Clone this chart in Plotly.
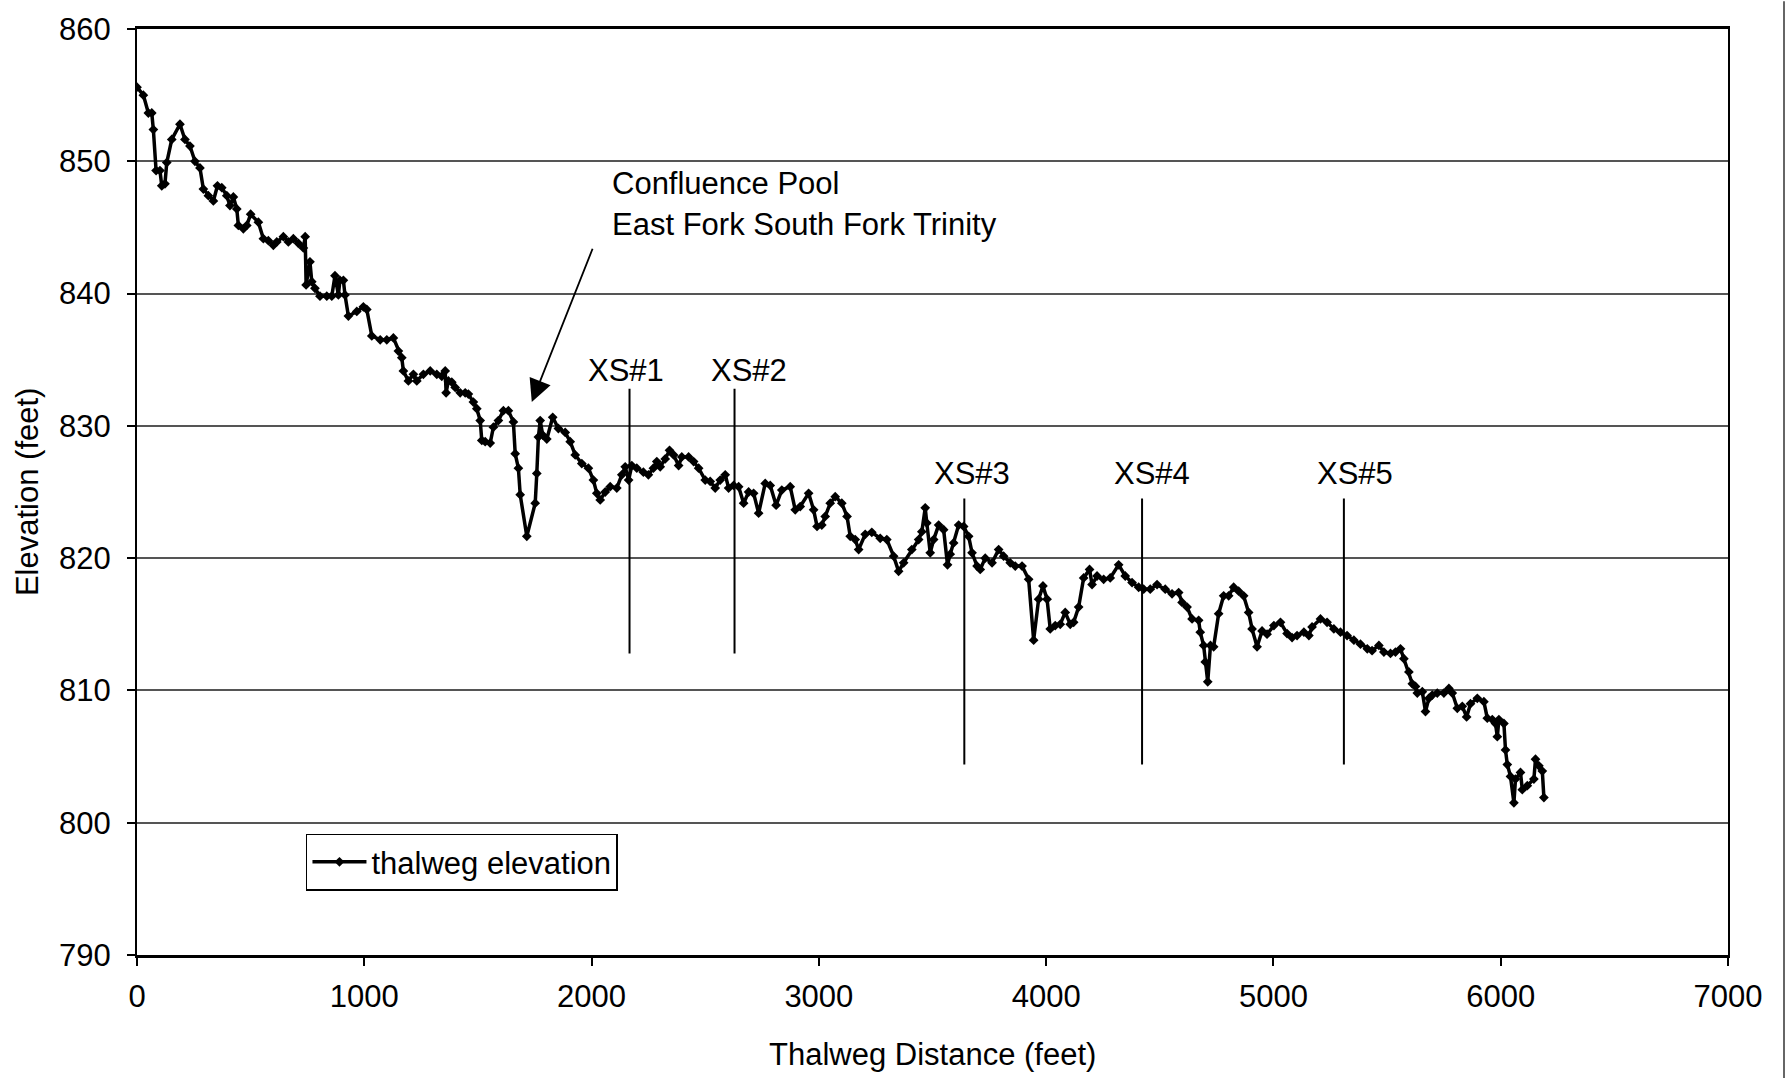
import plotly.graph_objects as go

# ---- data ----
distance_ft = [
    0, 28, 50, 65, 72, 84, 101, 109, 123, 131, 153, 189, 211, 233, 255, 277, 292, 314, 336, 354,
    373, 395, 409, 424, 439, 446, 468, 483, 500, 534, 556, 578, 600, 615, 644, 666, 688, 710, 732, 740,
    744, 761, 769, 783, 805, 835, 857, 871, 886, 893, 908, 915, 930, 967, 996, 1011, 1033, 1070, 1099, 1128,
    1150, 1165, 1172, 1194, 1216, 1231, 1260, 1290, 1319, 1341, 1356, 1360, 1370, 1385, 1400, 1422, 1444, 1458, 1480, 1495,
    1510, 1517, 1532, 1554, 1568, 1590, 1612, 1634, 1656, 1664, 1678, 1686, 1715, 1752, 1759, 1766, 1774, 1785, 1803, 1829,
    1854, 1884, 1906, 1928, 1957, 1986, 2008, 2023, 2038, 2060, 2082, 2111, 2133, 2148, 2163, 2177, 2199, 2228, 2250, 2272,
    2287, 2302, 2324, 2343, 2361, 2383, 2397, 2427, 2449, 2471, 2500, 2522, 2544, 2566, 2588, 2603, 2625, 2647, 2669, 2691,
    2713, 2735, 2764, 2786, 2812, 2837, 2874, 2896, 2918, 2955, 2977, 2992, 3013, 3028, 3050, 3072, 3101, 3124, 3138, 3160,
    3175, 3204, 3233, 3270, 3299, 3329, 3351, 3373, 3409, 3439, 3453, 3468, 3475, 3490, 3505, 3527, 3549, 3566, 3578, 3593,
    3615, 3637, 3659, 3674, 3696, 3710, 3732, 3762, 3791, 3813, 3842, 3864, 3894, 3923, 3945, 3967, 3986, 4004, 4018, 4040,
    4062, 4084, 4106, 4121, 4143, 4165, 4191, 4202, 4224, 4253, 4282, 4319, 4348, 4378, 4407, 4429, 4458, 4488, 4524, 4554,
    4583, 4598, 4620, 4642, 4671, 4678, 4693, 4700, 4711, 4723, 4737, 4759, 4781, 4803, 4825, 4847, 4869, 4891, 4906, 4928,
    4950, 4972, 5002, 5031, 5060, 5082, 5104, 5134, 5156, 5170, 5207, 5236, 5266, 5295, 5324, 5354, 5383, 5413, 5434, 5464,
    5486, 5515, 5537, 5559, 5574, 5596, 5611, 5625, 5633, 5655, 5669, 5684, 5699, 5721, 5750, 5772, 5787, 5809, 5831, 5850,
    5867, 5897, 5926, 5941, 5963, 5977, 5985, 5992, 6014, 6021, 6029, 6043, 6058, 6065, 6087, 6095, 6117, 6146, 6153, 6168,
    6183, 6190,
]
elevation_ft = [
    855.6, 855.0, 853.65, 853.65, 852.4, 849.3, 849.3, 848.15, 848.3, 849.9, 851.65, 852.8, 851.65, 851.15, 850.0, 849.5, 847.9, 847.4, 847.0, 848.15,
    848.0, 847.4, 846.65, 847.3, 846.4, 845.15, 844.9, 845.15, 846.0, 845.4, 844.15, 844.0, 843.65, 843.9, 844.3, 843.9, 844.15, 843.8, 843.45, 844.3,
    840.65, 842.4, 840.9, 840.4, 839.8, 839.8, 839.8, 841.35, 839.9, 841.0, 841.0, 839.9, 838.3, 838.65, 839.0, 838.8, 836.8, 836.5, 836.5, 836.65,
    835.65, 835.15, 834.15, 833.4, 833.9, 833.4, 833.9, 834.15, 833.9, 833.75, 834.15, 832.5, 833.4, 833.3, 832.9, 832.5, 832.5, 832.4, 831.8, 831.3,
    830.4, 828.9, 828.8, 828.7, 829.9, 830.4, 831.15, 831.15, 830.3, 827.9, 826.8, 824.8, 821.65, 824.15, 826.4, 829.15, 830.4, 829.3, 829.0, 830.65,
    829.8, 829.5, 828.8, 827.8, 827.15, 826.8, 825.9, 824.9, 824.4, 825.0, 825.4, 825.3, 826.3, 826.9, 825.9, 827.0, 826.8, 826.5, 826.3, 826.8,
    827.3, 826.9, 827.5, 828.15, 827.8, 827.0, 827.65, 827.65, 827.3, 826.8, 825.9, 825.8, 825.3, 825.9, 826.3, 825.3, 825.5, 825.4, 824.15, 825.0,
    824.9, 823.4, 825.65, 825.5, 824.0, 825.15, 825.4, 823.65, 823.9, 824.9, 823.65, 822.4, 822.5, 823.15, 824.15, 824.65, 824.15, 823.15, 821.65, 821.4,
    820.65, 821.8, 821.95, 821.5, 821.4, 820.15, 819.0, 819.65, 820.65, 821.4, 822.0, 823.8, 822.65, 820.4, 821.4, 822.5, 822.15, 819.5, 820.3, 821.15,
    822.5, 822.4, 821.65, 820.4, 819.4, 819.15, 820.0, 819.65, 820.65, 820.15, 819.65, 819.4, 819.4, 818.4, 813.8, 816.9, 817.9, 816.9, 814.65, 814.9,
    815.0, 815.9, 815.0, 815.15, 816.3, 818.5, 819.15, 818.0, 818.65, 818.4, 818.5, 819.5, 818.65, 818.15, 817.8, 817.65, 817.65, 818.0, 817.65, 817.3,
    817.4, 816.65, 816.3, 815.4, 815.3, 814.4, 813.4, 812.15, 810.65, 813.4, 813.3, 815.8, 817.15, 817.15, 817.8, 817.5, 817.15, 815.9, 814.65, 813.3,
    814.5, 814.25, 814.9, 815.15, 814.3, 814.0, 814.15, 814.4, 814.15, 814.8, 815.4, 815.15, 814.65, 814.4, 814.15, 813.8, 813.5, 813.15, 813.0, 813.4,
    812.9, 812.8, 812.9, 813.15, 812.4, 811.4, 810.5, 810.3, 809.8, 809.9, 808.4, 809.4, 809.65, 809.8, 809.8, 810.15, 809.8, 808.65, 808.8, 808.0,
    809.0, 809.4, 809.15, 807.9, 807.8, 807.5, 806.5, 807.8, 807.5, 805.5, 804.4, 803.5, 801.5, 803.3, 803.8, 802.5, 802.8, 803.3, 804.8, 804.3,
    803.9, 801.9,
]

# cross-section markers
xs_labels = ["XS#1", "XS#2", "XS#3", "XS#4", "XS#5"]
xs_distance = [2167, 2629, 3640, 4422, 5310]
xs_bottom = [812.8, 812.8, 804.4, 804.4, 804.4]
xs_top = [832.8, 832.8, 824.5, 824.5, 824.5]

# annotation arrow (Confluence Pool)
pool_text = ["Confluence Pool", "East Fork South Fork Trinity"]
pool_point = (1737, 831.8)
pool_tail = (2007, 843.5)

FONT = "Liberation Sans, Arial, Helvetica, sans-serif"
FS = 31

fig = go.Figure()
fig.add_trace(go.Scatter(
    x=distance_ft, y=elevation_ft, mode="lines+markers",
    name="thalweg elevation",
    line=dict(color="black", width=3.5),
    marker=dict(symbol="diamond", size=7.5, color="black"),
))

shapes = []
for xd, yb, yt in zip(xs_distance, xs_bottom, xs_top):
    shapes.append(dict(type="line", xref="x", yref="y", x0=xd, x1=xd, y0=yb, y1=yt,
                       line=dict(color="black", width=2)))
# outer border line at right edge of the scanned frame
shapes.append(dict(type="line", xref="paper", yref="paper", x0=1.0352, x1=1.0352,
                   y0=-0.14, y1=1.03, line=dict(color="#333", width=1.5)))

annotations = []
label_y = [834.2, 834.2, 826.43, 826.43, 826.43]
label_shift = [-4, 14, 8, 10, 11]
for lab, xd, ly, sh in zip(xs_labels, xs_distance, label_y, label_shift):
    annotations.append(dict(x=xd, y=ly, xref="x", yref="y", text=lab, showarrow=False,
                            xanchor="center", yanchor="middle", xshift=sh,
                            font=dict(family=FONT, size=FS, color="black")))

annotations.append(dict(x=2082, y=848.3, xref="x", yref="y", text=pool_text[0], showarrow=False,
                        xanchor="left", yanchor="middle", font=dict(family=FONT, size=FS, color="black")))
annotations.append(dict(x=2082, y=845.2, xref="x", yref="y", text=pool_text[1], showarrow=False,
                        xanchor="left", yanchor="middle", font=dict(family=FONT, size=FS, color="black")))
annotations.append(dict(x=pool_point[0], y=pool_point[1], xref="x", yref="y",
                        ax=pool_tail[0], ay=pool_tail[1], axref="x", ayref="y",
                        text="", showarrow=True, arrowhead=2, arrowsize=2.5, arrowwidth=1.8,
                        arrowcolor="black"))

# axis titles
annotations.append(dict(x=-0.0691, y=0.5, xref="paper", yref="paper", text="Elevation (feet)",
                        textangle=-90, showarrow=False, xanchor="center", yanchor="middle",
                        font=dict(family=FONT, size=FS, color="black")))
annotations.append(dict(x=0.5, y=-0.1072, xref="paper", yref="paper", text="Thalweg Distance (feet)",
                        showarrow=False, xanchor="center", yanchor="middle",
                        font=dict(family=FONT, size=FS, color="black")))

fig.update_layout(
    width=1788, height=1078,
    margin=dict(l=137, r=60, t=22, b=123),
    paper_bgcolor="white", plot_bgcolor="white",
    font=dict(family=FONT, size=FS, color="black"),
    shapes=shapes, annotations=annotations,
    showlegend=True,
    legend=dict(x=0.1062, y=0.131, xanchor="left", yanchor="top",
                bgcolor="white", bordercolor="black", borderwidth=1.5,
                font=dict(family=FONT, size=FS, color="black"), itemwidth=54),
)
fig.update_xaxes(range=[0, 7000], dtick=1000, tick0=0, showgrid=False, zeroline=False,
                 showline=True, linecolor="black", linewidth=3, mirror=True,
                 ticks="outside", ticklen=8, tickwidth=1.5, tickcolor="black",
                 ticklabelstandoff=4, tickfont=dict(family=FONT, size=FS, color="black"))
fig.update_yaxes(range=[790, 860], dtick=10, tick0=790, showgrid=True, gridcolor="#555555",
                 gridwidth=1.5, zeroline=False,
                 showline=True, linecolor="black", linewidth=2, mirror=True,
                 ticks="outside", ticklen=8, tickwidth=1.5, tickcolor="black",
                 ticklabelstandoff=10, tickfont=dict(family=FONT, size=FS, color="black"))

fig.write_html("out.html")
